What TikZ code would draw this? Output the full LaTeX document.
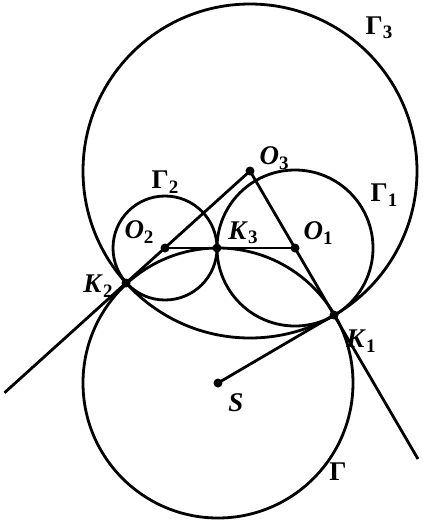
\documentclass[tikz,border=0pt]{standalone}
\usepackage{fontspec}
\setmainfont{Liberation Serif}
\usetikzlibrary{positioning,calc}

\newcommand{\ptlab}[2]{\textbf{\textit{#1}}\raisebox{-0.35ex}{\fontsize{19}{19}\selectfont\textbf{#2}}}
\newcommand{\circlab}[1]{\textbf{Γ}\raisebox{-0.35ex}{\fontsize{19}{19}\selectfont\textbf{#1}}}

\begin{document}
\begin{tikzpicture}[x=1pt,y=-1pt,line width=2.8pt]

      \tikzstyle{dot}=[circle,fill,inner sep=0pt,minimum size=9pt]
      \tikzstyle{lab}=[inner sep=0pt,font=\fontsize{27}{29}\selectfont]

      \useasboundingbox (0,0) rectangle (423,523);

      % centres and touching points
      \coordinate (O3) at (250,171);
      \coordinate (O2) at (165,248);
      \coordinate (O1) at (295,248);
      \coordinate (K3) at (217,248);
      \coordinate (K2) at (126,283);
      \coordinate (K1) at (334,315);
      \coordinate (S) at (218,383);
      \coordinate (E2) at ($(O3)!1.98!(K2)$);
      \coordinate (E1) at ($(O3)!2!(K1)$);

      % circles
      \draw (O3) circle (167pt);
      \draw (O2) circle (52pt);
      \draw (O1) circle (78pt);
      \draw (S) circle (135pt);

      % lines
      \draw (E2)--(O3)--(E1);
      \draw (O2)--(O1);
      \draw (S)--(K1);

      \foreach \p in {O3,O2,O1,K3,K2,K1,S}
        \node[dot] at (\p) {};

      % labels
      \node(G3lab)[lab] at (379,28) {\circlab{3}};
      \node(G1lab)[lab] at (384,195) {\circlab{1}};
      \node(G2lab)[lab] at (165,182) {\circlab{2}};
      \node(Glab)[lab] at (338,472) {\textbf{Γ}};
      \node(O3lab)[lab] at (274,158) {\ptlab{O}{3}};
      \node(O2lab)[lab] at (139,232) {\ptlab{O}{2}};
      \node(K3lab)[lab] at (243,233) {\ptlab{K}{3}};
      \node(O1lab)[lab] at (318,233) {\ptlab{O}{1}};
      \node(K2lab)[lab] at (98,286) {\ptlab{K}{2}};
      \node(K1lab)[lab] at (361,341) {\ptlab{K}{1}};
      \node(Slab)[lab] at (236,403) {\textbf{\textit{S}}};

\end{tikzpicture}
\end{document}
